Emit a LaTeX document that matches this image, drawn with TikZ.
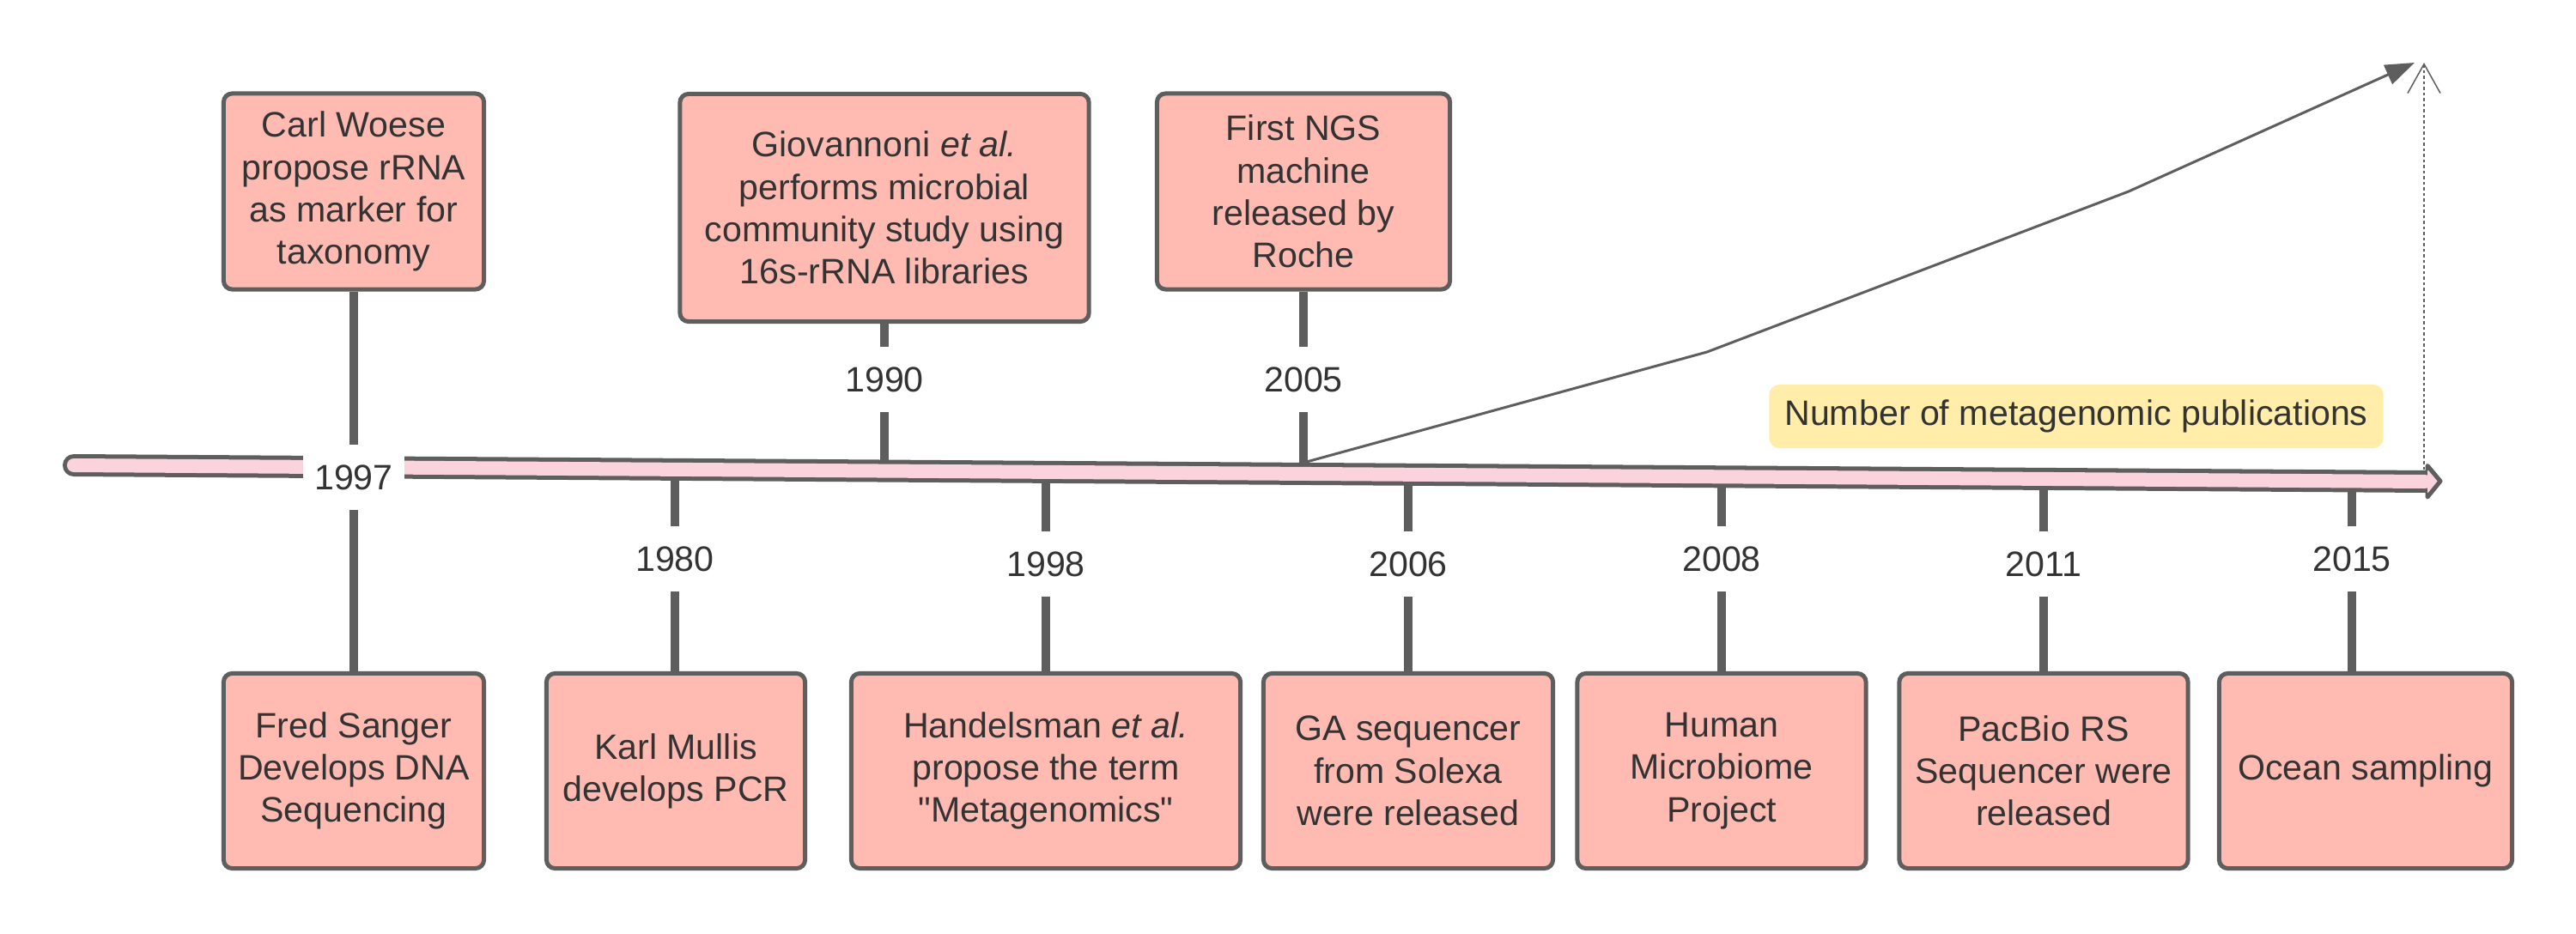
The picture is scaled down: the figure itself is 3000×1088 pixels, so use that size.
\documentclass[tikz,border=0pt]{standalone}
\usepackage{fontspec}
\setmainfont{Liberation Sans}[Ligatures=TeXOff]
\usetikzlibrary{arrows.meta}
\definecolor{TimeGray}{HTML}{5E5E5E}
\definecolor{TimeText}{HTML}{333333}
\definecolor{EventFill}{HTML}{FFBBB1}
\definecolor{BandPink}{HTML}{FAD3DD}
\definecolor{NoteYellow}{HTML}{FFEDA9}

\begin{document}
\begin{tikzpicture}[x=0.01cm,y=-0.01cm,
  every node/.style={font=\fontsize{11.7}{14}\selectfont,text=TimeText},
  event/.style={draw=TimeGray,line width=0.05cm,fill=EventFill,rounded corners=0.1cm,
    align=center,inner sep=0pt},
  year/.style={fill=white,minimum width=1.18cm,minimum height=0.76cm,inner sep=0pt},
  stem/.style={draw=TimeGray,line width=0.1cm}]
\useasboundingbox (0,0) rectangle (3000,1088);

% events above the axis
\node[event,minimum width=3.03cm,minimum height=2.28cm] (woese) at (412,223) {Carl Woese\\propose rRNA\\as marker for\\taxonomy};
\node[event,minimum width=4.76cm,minimum height=2.65cm] (giovannoni) at (1030,242) {Giovannoni {\itshape et al.}\\performs microbial\\community study using\\16s-rRNA libraries};
\node[event,minimum width=3.41cm,minimum height=2.28cm] (ngs) at (1518,223) {First NGS\\machine\\released by\\Roche};

% events below the axis
\node[event,minimum width=3.03cm,minimum height=2.27cm] (sanger) at (412,898) {Fred Sanger\\Develops DNA\\Sequencing};
\node[event,minimum width=3.01cm,minimum height=2.27cm] (mullis) at (787,898) {Karl Mullis\\develops PCR};
\node[event,minimum width=4.53cm,minimum height=2.27cm] (handelsman) at (1218,898) {Handelsman {\itshape et al.}\\propose the term\\"Metagenomics"};
\node[event,minimum width=3.37cm,minimum height=2.27cm] (solexa) at (1640,898) {GA sequencer\\from Solexa\\were released};
\node[event,minimum width=3.36cm,minimum height=2.27cm] (hmp) at (2005,898) {Human\\Microbiome\\Project};
\node[event,minimum width=3.36cm,minimum height=2.27cm] (pacbio) at (2380,898) {PacBio RS\\Sequencer were\\released};
\node[event,minimum width=3.41cm,minimum height=2.27cm] (ocean) at (2755,898) {Ocean sampling};

% points where the stems meet the slanted axis
\coordinate (band-start) at (86,542);
\coordinate (band-end) at (2827,561);
\coordinate (tl1980) at (786,547);
\coordinate (tl1990) at (1030,548.6);
\coordinate (tl1998) at (1218,550);
\coordinate (tl2005) at (1518,552);
\coordinate (tl2006) at (1640,553);
\coordinate (tl2008) at (2005,555.4);
\coordinate (tl2011) at (2380,558);
\coordinate (tl2015) at (2739,560.5);

\draw[stem] (woese.south) -- (sanger.north);
\foreach \t/\ev in {tl1990/giovannoni,tl2005/ngs}
  {\draw[stem] (\t |- \ev.south) -- (\t);}
\foreach \t/\ev in {tl1980/mullis,tl1998/handelsman,tl2006/solexa,tl2008/hmp,tl2011/pacbio,tl2015/ocean}
  {\draw[stem] (\t) -- (\t |- \ev.north);}

% the axis itself
\draw[TimeGray,line width=0.26cm,line cap=round] (band-start) -- (band-end);
\draw[BandPink,line width=0.16cm,line cap=round] (band-start) -- (2824,561);
\fill[BandPink] (2827,543) -- (2842,560.5) -- (2827,578) -- cycle;
\draw[TimeGray,line width=0.05cm,line join=round] (2827,548) -- (2827,542.5) -- (2842,560.5) -- (2827,579) -- (2827,574);

% growth of publications
\coordinate (g0) at (1518,539);
\coordinate (g1) at (1988,410);
\coordinate (g2) at (2479,223);
\coordinate (g3) at (2812,73);
\draw[TimeGray,line width=0.03cm,-{Triangle[length=0.34cm,width=0.24cm]}] (g0) -- (g1) -- (g2) -- (g3);
\coordinate (d0) at (2823,547);
\coordinate (d1) at (2823,73);
\draw[TimeGray,line width=0.015cm,dash pattern=on 0.035cm off 0.03cm,
  -{Straight Barb[length=0.34cm,width=0.38cm]}] (d0) -- (d1);
\node[fill=NoteYellow,rounded corners=0.12cm,minimum width=7.15cm,minimum height=0.74cm,inner sep=0pt] (note) at (2418,485) {Number of metagenomic publications};

% year labels
\node[year] (y1997) at (412,556) {1997};
\node[year] (y1990) at (1030,442) {1990};
\node[year] (y2005) at (1518,442) {2005};
\node[year] (y1980) at (786,651) {1980};
\node[year] (y1998) at (1218,657) {1998};
\node[year] (y2006) at (1640,657) {2006};
\node[year] (y2008) at (2005,651) {2008};
\node[year] (y2011) at (2380,657) {2011};
\node[year] (y2015) at (2739,651) {2015};
\end{tikzpicture}
\end{document}
